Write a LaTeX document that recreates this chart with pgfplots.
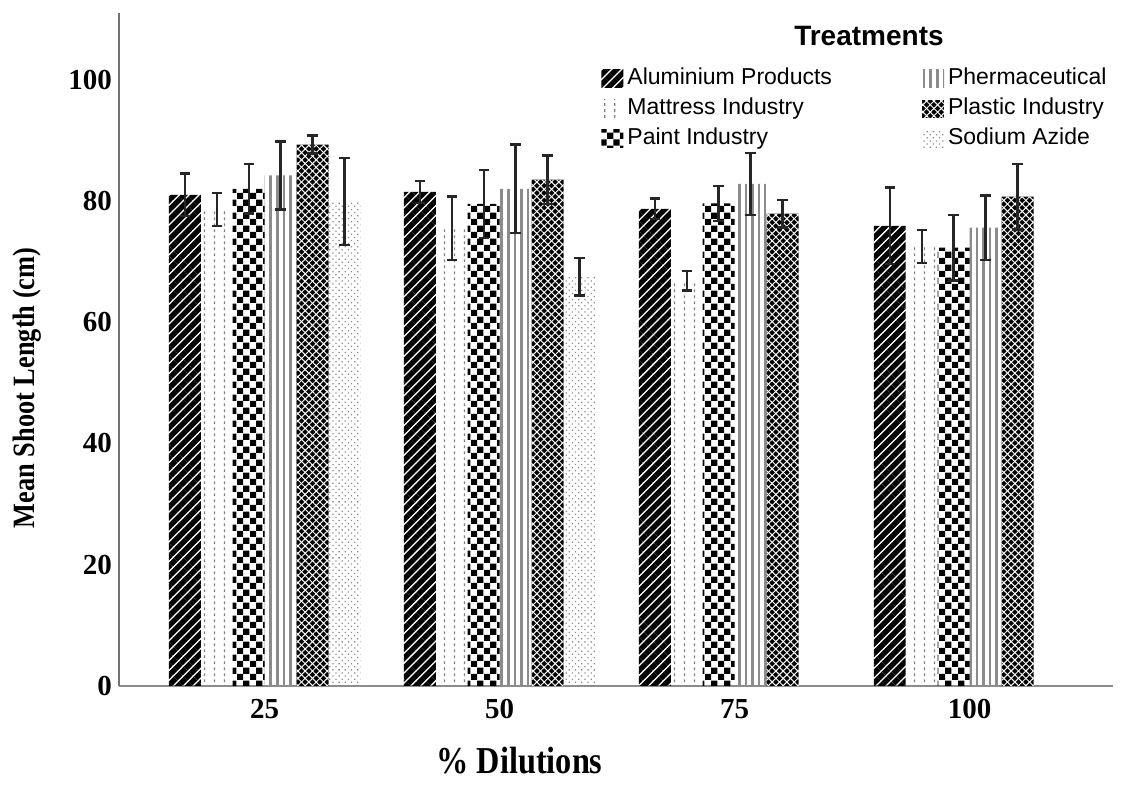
\documentclass[border=0pt]{standalone}
\usepackage{fontspec}
\setmainfont{Liberation Serif}
\newfontfamily\condserif{Liberation Serif}[FakeStretch=0.85]
\newfontfamily\legfont{Liberation Sans}
\usepackage{pgfplots}
\pgfplotsset{compat=1.18}
\usetikzlibrary{patterns.meta}

% checkerboard fill (Paint Industry)
\tikzdeclarepattern{
  name=checker,
  type=uncolored,
  bottom left={(0pt,0pt)},
  top right={(6.6pt,6.6pt)},
  tile size={(6.6pt,6.6pt)},
  code={
    \fill (0pt,0pt) rectangle (3.3pt,3.3pt);
    \fill (3.3pt,3.3pt) rectangle (6.6pt,6.6pt);
  }
}
% broken vertical strokes (Mattress Industry)
\tikzdeclarepattern{
  name=vdashes,
  type=uncolored,
  bottom left={(0pt,0pt)},
  top right={(5pt,3pt)},
  tile size={(5pt,3pt)},
  code={
    \draw[line width=0.7pt] (2.5pt,0.5pt) -- (2.5pt,2.1pt);
  }
}

\pgfplotsset{
  barleg/.style={legend image code/.code={%
      \draw[##1,draw=none] (0pt,-4.5pt) rectangle (11pt,4.5pt);}},
  errs/.style={error bars/.cd, y dir=both, y explicit,
    error bar style={line width=1.2pt, black!85},
    error mark options={rotate=90, line width=1.2pt, mark size=2.6pt, black!85}},
}

\begin{document}
\begin{tikzpicture}
\begin{axis}[
  scale only axis,
  width=497pt, height=336.5pt,
  ybar,
  bar width=0.136,
  xmin=-0.62, xmax=3.61,
  ymin=0, ymax=111,
  axis x line*=bottom, axis y line*=left,
  x axis line style={black!45, line width=1.1pt},
  y axis line style={black!55, line width=0.8pt},
  xtick={0,1,2,3},
  xticklabels={25,50,75,100},
  ytick={0,20,40,60,80,100},
  major tick length=0pt,
  ticklabel style={font=\bfseries\fontsize{14.5}{16}\selectfont},
  xticklabel style={yshift=-3pt},
  /pgf/number format/assume math mode=true,
  legend columns=2,
  legend cell align=left,
  legend style={at={(0.485,0.925)}, anchor=north west, draw=none, fill=none,
    inner sep=0pt,
    font=\legfont\fontsize{11.5}{13}\selectfont,
    nodes={inner sep=2pt, text height=8.5pt, text depth=2.5pt},
    /tikz/every even column/.append style={column sep=43pt}},
  clip=false,
]
% Aluminium Products
\addplot[draw=none, pattern={Lines[angle=45,distance=3.5pt,line width=2.7pt]},
  pattern color=black, bar shift=-0.34, barleg, errs]
  coordinates {(0,81.0) +- (0,3.5) (1,81.5) +- (0,1.8) (2,78.7) +- (0,1.7) (3,75.9) +- (0,6.3)};
\addlegendentry{Aluminium Products}
% Pharmaceutical
\addplot[draw=none, pattern={Lines[angle=90,distance=3.3pt,line width=1.3pt]},
  pattern color=black!45, bar shift=0.068, barleg, errs]
  coordinates {(0,84.2) +- (0,5.6) (1,82.0) +- (0,7.3) (2,82.8) +- (0,5.1) (3,75.6) +- (0,5.3)};
\addlegendentry{Phermaceutical}
% Mattress Industry
\addplot[draw=none, pattern=vdashes, pattern color=black!50,
  bar shift=-0.204, barleg, errs]
  coordinates {(0,78.6) +- (0,2.7) (1,75.5) +- (0,5.2) (2,66.8) +- (0,1.6) (3,72.5) +- (0,2.7)};
\addlegendentry{Mattress Industry}
% Plastic Industry
\addplot[draw=none, fill=black,
  postaction={pattern={Lines[angle=45,distance=2.6pt,line width=0.5pt]}, pattern color=white},
  postaction={pattern={Lines[angle=-45,distance=2.6pt,line width=0.5pt]}, pattern color=white},
  bar shift=0.204, barleg, errs]
  coordinates {(0,89.3) +- (0,1.5) (1,83.5) +- (0,4.0) (2,77.9) +- (0,2.3) (3,80.7) +- (0,5.4)};
\addlegendentry{Plastic Industry}
% Paint Industry
\addplot[draw=none, pattern=checker, pattern color=black,
  bar shift=-0.068, barleg, errs]
  coordinates {(0,82.0) +- (0,4.1) (1,79.5) +- (0,5.6) (2,79.6) +- (0,2.9) (3,72.3) +- (0,5.4)};
\addlegendentry{Paint Industry}
% Sodium Azide
\addplot[draw=none, pattern={Dots[radius=0.45pt,distance=2.2pt,angle=45]},
  pattern color=black!45, bar shift=0.34, barleg, errs]
  coordinates {(0,79.9) +- (0,7.2) (1,67.5) +- (0,3.1)};
\addlegendentry{Sodium Azide}

\node[font=\legfont\bfseries\fontsize{14}{16}\selectfont] at (rel axis cs:0.7545,0.966) {Treatments};
\node[font=\condserif\bfseries\fontsize{19}{22}\selectfont] at (rel axis cs:0.403,-0.111) {\% Dilutions};
\node[font=\condserif\bfseries\fontsize{15.5}{18}\selectfont, rotate=90] at (rel axis cs:-0.0926,0.443) {Mean Shoot Length (cm)};
\coordinate (ll) at (rel axis cs:0,0);
\coordinate (ur) at (rel axis cs:1,1);
\end{axis}
\pgfresetboundingbox
\path ([shift={(-59.5pt,-49.5pt)}]ll) rectangle ([shift={(4pt,6.5pt)}]ur);
\end{tikzpicture}
\end{document}
